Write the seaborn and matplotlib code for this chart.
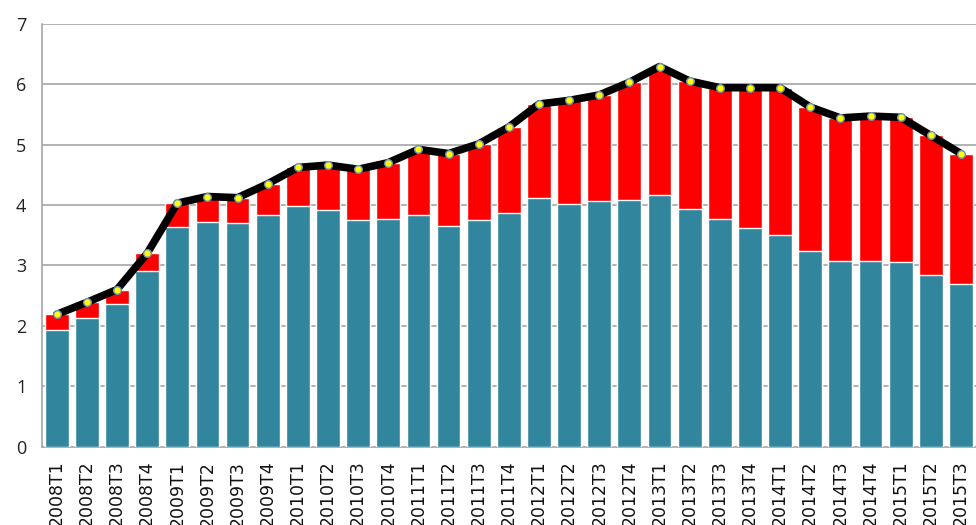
import matplotlib
matplotlib.use("Agg")
import matplotlib.pyplot as plt
import numpy as np
import pandas as pd
import seaborn as sns

# Dados -------------------------------------------------------------------------------
trimestres = [f"{a}T{t}" for a in range(2008, 2016) for t in range(1, 5)][:31]

base = [1.94, 2.13, 2.36, 2.91, 3.64, 3.72, 3.70, 3.83, 3.99, 3.92, 3.75, 3.76,
        3.84, 3.66, 3.75, 3.86, 4.12, 4.02, 4.06, 4.09, 4.17, 3.93, 3.76, 3.62,
        3.51, 3.24, 3.08, 3.07, 3.06, 2.84, 2.70]

total = [2.19, 2.39, 2.60, 3.20, 4.03, 4.14, 4.12, 4.35, 4.62, 4.66, 4.59, 4.70,
         4.92, 4.85, 5.01, 5.29, 5.67, 5.73, 5.82, 6.03, 6.29, 6.05, 5.94, 5.94,
         5.94, 5.62, 5.44, 5.47, 5.45, 5.15, 4.85]

df = pd.DataFrame({"trimestre": trimestres, "base": base, "total": total})

# Figura -------------------------------------------------------------------------------
sns.set_style("white")
plt.rcParams["font.family"] = ["DejaVu Sans"]

fig = plt.figure(figsize=(9.76, 5.25), dpi=100)
ax = fig.add_axes([0.0427, 0.149, 0.9573, 0.806])

grid_cor = "#a6a6a6"
for y in range(1, 8):
    ax.axhline(y, color=grid_cor, linewidth=1.2, zorder=0)

# barras empilhadas: total em vermelho, parte de baixo em azul-petróleo
sns.barplot(data=df, x="trimestre", y="total", color="#ff0000", width=0.79,
            saturation=1, ax=ax, zorder=2)
sns.barplot(data=df, x="trimestre", y="base", color="#31859c", width=0.79,
            saturation=1, ax=ax, zorder=3)

# linha do total
ax.plot(np.arange(len(df)), df["total"], color="black", linewidth=5.5,
        solid_joinstyle="round", solid_capstyle="round", zorder=4)
ax.plot(np.arange(len(df)), df["total"], linestyle="none", marker="o",
        markersize=5.5, markerfacecolor="#ffff00", markeredgecolor="#6f8fb8",
        markeredgewidth=1, zorder=5)

# eixos
ax.set_ylim(0, 7)
ax.set_xlim(-0.5, 30.13)
ax.set_yticks(range(0, 8))
ax.set_yticklabels([str(v) for v in range(0, 8)], fontsize=13,
                   fontfamily="Open Sans", color="#222222")
ax.set_xticks(np.arange(len(df)))
ax.set_xticklabels(trimestres, rotation=90, fontsize=12.5, color="#111111")
ax.set_xticks(np.arange(len(df) + 1) - 0.5, minor=True)
ax.tick_params(axis="x", which="major", length=0, pad=10)
ax.tick_params(axis="x", which="minor", length=6, color=grid_cor, width=1.2)
ax.tick_params(axis="y", length=6, color=grid_cor, width=1.2, pad=5)
ax.set_xlabel("")
ax.set_ylabel("")

for lado in ["top", "right"]:
    ax.spines[lado].set_visible(False)
for lado in ["left", "bottom"]:
    ax.spines[lado].set_color(grid_cor)
    ax.spines[lado].set_linewidth(1.2)

fig.savefig("out.png", dpi=100)
